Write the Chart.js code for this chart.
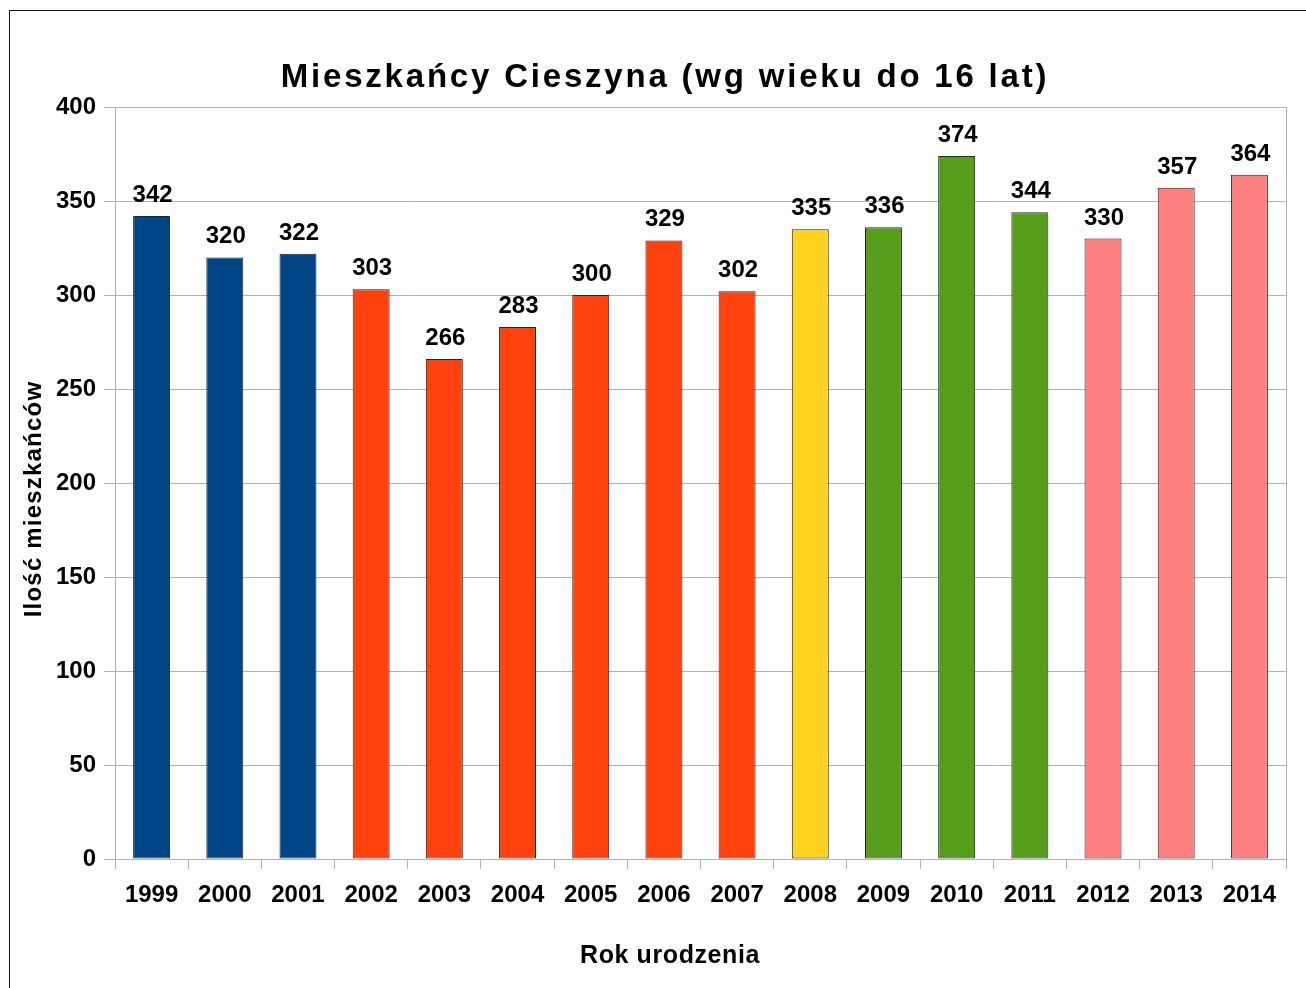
<!DOCTYPE html>
<html>
<head>
<meta charset="utf-8">
<script src="https://cdn.jsdelivr.net/npm/chart.js@4/dist/chart.umd.min.js"></script>
<style>
  html, body { margin: 0; padding: 0; background: #fff; overflow: hidden; }
  #wrap { position: relative; width: 1306px; height: 988px; }
  #frame { position: absolute; left: 9px; top: 10px; width: 1400px; height: 1100px; border: 1px solid #1a1a1a; box-sizing: border-box; }
  canvas { position: absolute; left: 0; top: 0; }
</style>
</head>
<body>
<div id="wrap">
  <div id="frame"></div>
  <canvas id="c" width="1306" height="988"></canvas>
</div>
<script>
const years = ['1999','2000','2001','2002','2003','2004','2005','2006','2007','2008','2009','2010','2011','2012','2013','2014'];
const residents = [342, 320, 322, 303, 266, 283, 300, 329, 302, 335, 336, 374, 344, 330, 357, 364];
const barColors = ['#004586','#004586','#004586','#ff420e','#ff420e','#ff420e','#ff420e','#ff420e','#ff420e','#ffd320','#579d1c','#579d1c','#579d1c','#ff8080','#ff8080','#ff8080'];
const yTicks = [0, 50, 100, 150, 200, 250, 300, 350, 400];
const chartTitle = 'Mieszkańcy Cieszyna (wg wieku do 16 lat)';
const yTitle = 'Ilość mieszkańców';
const xTitle = 'Rok urodzenia';

const FONT = '"Liberation Sans", Arial, sans-serif';

const frameBox = {
  id: 'frameBox',
  beforeDatasetsDraw(chart) {
    const { ctx, chartArea: a } = chart;
    ctx.save();
    ctx.strokeStyle = '#b3b3b3';
    ctx.lineWidth = 1;
    ctx.strokeRect(Math.round(a.left) + 0.5, Math.round(a.top) + 0.5, Math.round(a.right - a.left), Math.round(a.bottom - a.top));
    ctx.restore();
  }
};

const valueLabels = {
  id: 'valueLabels',
  afterDatasetsDraw(chart) {
    const { ctx } = chart;
    const meta = chart.getDatasetMeta(0);
    ctx.save();
    ctx.font = 'bold 24px ' + FONT;
    ctx.fillStyle = '#000';
    ctx.textAlign = 'center';
    ctx.textBaseline = 'alphabetic';
    meta.data.forEach((bar, i) => {
      ctx.fillText(String(chart.data.datasets[0].data[i]), bar.x + 1, bar.y - 14);
    });
    ctx.restore();
  }
};

const titles = {
  id: 'titles',
  afterDraw(chart) {
    const { ctx } = chart;
    ctx.save();
    ctx.fillStyle = '#000';
    ctx.textAlign = 'center';
    ctx.textBaseline = 'alphabetic';
    // main title
    ctx.font = 'bold 33px ' + FONT;
    ctx.letterSpacing = '2.8px';
    ctx.fillText(chartTitle, 665, 87);
    // x axis title
    ctx.font = 'bold 25px ' + FONT;
    ctx.letterSpacing = '0.6px';
    ctx.fillText(xTitle, 670, 963);
    // y axis title
    ctx.font = 'bold 24px ' + FONT;
    ctx.letterSpacing = '1.2px';
    ctx.translate(41, 499);
    ctx.rotate(-Math.PI / 2);
    ctx.fillText(yTitle, 0, 0);
    ctx.restore();
  }
};

new Chart(document.getElementById('c'), {
  type: 'bar',
  data: {
    labels: years,
    datasets: [{
      data: residents,
      backgroundColor: barColors,
      borderColor: '#262626',
      borderWidth: 1,
      borderSkipped: false,
      barPercentage: 0.505,
      categoryPercentage: 1.0
    }]
  },
  options: {
    responsive: false,
    animation: false,
    devicePixelRatio: 1,
    layout: { padding: { top: 107, right: 20, left: 0, bottom: 0 } },
    plugins: {
      legend: { display: false },
      title: { display: false },
      tooltip: { enabled: false }
    },
    scales: {
      x: {
        offset: true,
        grid: {
          display: true,
          offset: true,
          drawOnChartArea: false,
          drawTicks: true,
          tickLength: 10,
          color: '#b3b3b3',
          lineWidth: 1
        },
        border: { display: true, color: '#b3b3b3', width: 1 },
        ticks: {
          color: '#000',
          font: { family: FONT, size: 24, weight: 'bold' },
          padding: 12,
          maxRotation: 0,
          autoSkip: false
        },
        afterFit(scale) { scale.height = 129; }
      },
      y: {
        min: 0,
        max: 400,
        afterBuildTicks(scale) { scale.ticks = yTicks.map(v => ({ value: v })); },
        grid: {
          color: '#b3b3b3',
          lineWidth: 1,
          drawTicks: true,
          tickLength: 11
        },
        border: { display: true, color: '#b3b3b3', width: 1 },
        ticks: {
          color: '#000',
          font: { family: FONT, size: 24, weight: 'bold' },
          padding: 8
        },
        afterFit(scale) { scale.width = 115; }
      }
    }
  },
  plugins: [frameBox, valueLabels, titles]
});
</script>
</body>
</html>
